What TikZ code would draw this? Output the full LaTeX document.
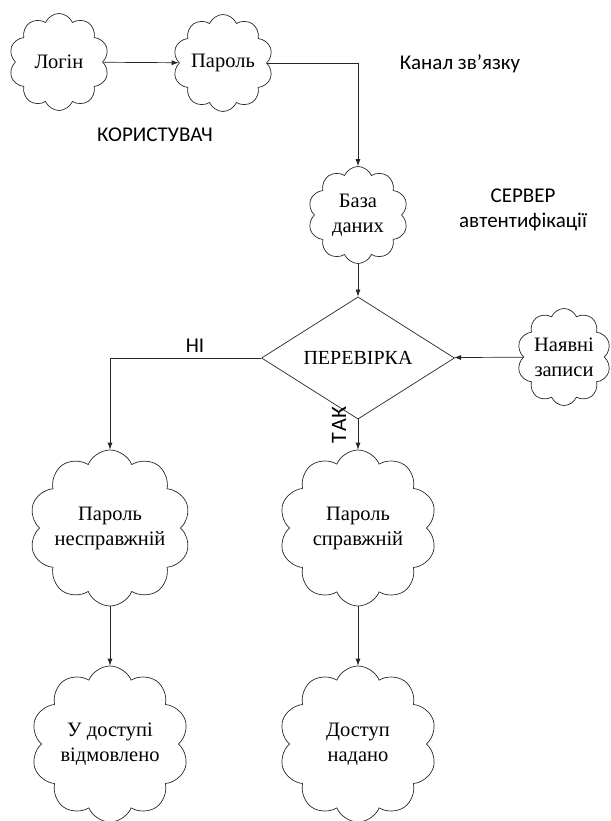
\documentclass[tikz,border=0pt]{standalone}
\usepackage{fontspec}
\setmainfont{Liberation Serif}
\newfontfamily\labelfont{Carlito}
\usetikzlibrary{shapes.symbols,shapes.geometric,arrows.meta}
\begin{document}
\begin{tikzpicture}[x=1pt,y=-1pt,
  every node/.style={inner sep=0pt},
  puff/.style={cloud, cloud puffs=10, cloud puff arc=135, cloud ignores aspect,
    draw=black!85, line width=0.7pt, align=center,
    font=\fontsize{20.5}{25}\selectfont},
  smallpuff/.style={puff, minimum width=100pt, minimum height=97pt},
  bigpuff/.style={puff, minimum width=158pt, minimum height=156pt},
  note/.style={font=\labelfont\fontsize{21}{25}\selectfont, align=center},
  link/.style={draw=black!85, line width=0.7pt},
  flow/.style={link, -{Latex[length=7pt,width=5pt]}}]
\useasboundingbox (0,0) rectangle (610,821);

% user side
\node[smallpuff] (login) at (59,62) {Логін};
\node[smallpuff] (pass) at (223,63) {Пароль};
\node[note] (user) at (155,135) {КОРИСТУВАЧ};
\node[note] (chan) at (460,64) {Канал зв’язку};

% server side
\node[smallpuff] (db) at (358,215) {База\\даних};
\node[note] (srv) at (523,210) {СЕРВЕР\\автентифікації};
\node[diamond, draw=black!85, line width=0.7pt, minimum width=193pt,
  minimum height=77pt, font=\fontsize{20}{24}\selectfont] (chk) at (358,358) {ПЕРЕВІРКА};
\node[puff, minimum width=94pt, minimum height=97pt] (rec) at (564,357) {Наявні\\записи};

% outcomes
\node[bigpuff] (bad) at (110,528) {Пароль\\несправжній};
\node[bigpuff] (good) at (358,528) {Пароль\\справжній};
\node[bigpuff] (deny) at (110,744) {У доступі\\відмовлено};
\node[bigpuff] (grant) at (358,744) {Доступ\\надано};

% branch labels
\node[note] (no) at (195,346) {НІ};
\node[note, rotate=90, font=\labelfont\fontsize{22}{25}\selectfont] (yes) at (339,425) {Т\kern1ptА\kern1ptК};

% connectors
\draw[flow] (login) -- (pass);
\draw[flow] (pass.east) -| (db.north);
\draw[flow] (db) -- (chk);
\draw[flow] (rec) -- (chk);
\draw[flow] (chk.west) -| (bad.north);
\draw[flow] (chk.south) -- (good.north);
\draw[flow] (bad) -- (deny);
\draw[flow] (good) -- (grant);
\end{tikzpicture}
\end{document}
